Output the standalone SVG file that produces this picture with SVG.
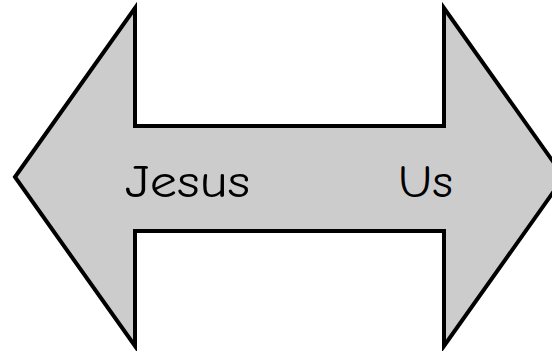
<svg xmlns="http://www.w3.org/2000/svg" width="552" height="351" viewBox="0 0 552 351">
  <style>
    .arrow { fill: #cccccc; stroke: #000000; stroke-width: 4; stroke-linejoin: miter; stroke-miterlimit: 10; }
    .label { font-family: "Comic Neue", "DejaVu Sans", "Liberation Sans", sans-serif; font-size: 46px; fill: #000000; }
  </style>
  <rect width="552" height="351" fill="#ffffff"/>
  <g id="double-arrow">
    <polygon class="arrow" points="15,177 135,8 135,126 444,126 444,8 564,177 444,346 444,231 135,231 135,346"/>
  </g>
  <g id="label-jesus">
    <text class="label" x="125" y="197" textLength="125" lengthAdjust="spacingAndGlyphs">Jesus</text>
  </g>
  <g id="label-us">
    <text class="label" x="398" y="197" textLength="55" lengthAdjust="spacingAndGlyphs">Us</text>
  </g>
</svg>
